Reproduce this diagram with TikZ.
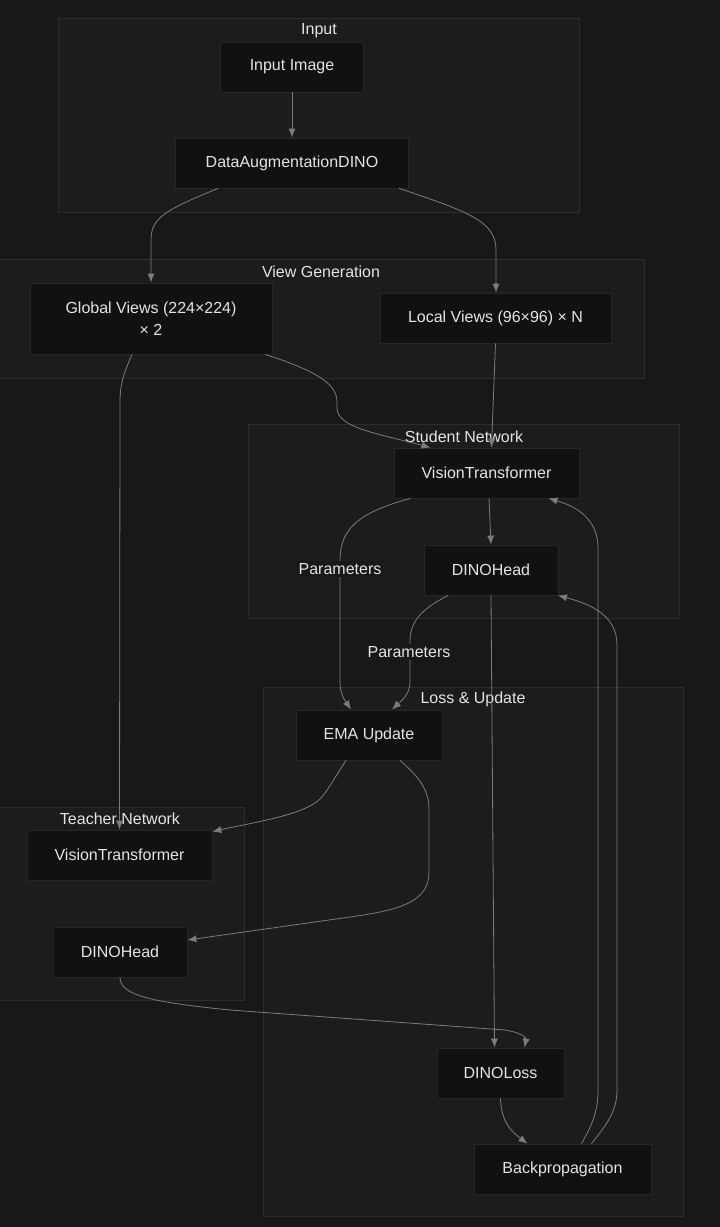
\documentclass[tikz,border=0pt]{standalone}
\usepackage{fontspec}
\setmainfont{Liberation Sans}
\usetikzlibrary{arrows.meta}
\definecolor{PageBg}{HTML}{181818}
\definecolor{GroupFill}{HTML}{1C1C1C}
\definecolor{GroupLine}{HTML}{2C2C2C}
\definecolor{BoxFill}{HTML}{111111}
\definecolor{BoxLine}{HTML}{262626}
\definecolor{EdgeGray}{HTML}{7C7C7C}
\definecolor{TextGray}{HTML}{E4E4E4}

\begin{document}
\begin{tikzpicture}[x=1pt,y=-1pt,>={Latex[length=9pt,width=7pt]}]
    \tikzset{
      group/.style={draw=GroupLine,fill=GroupFill,line width=0.8pt},
      grouptitle/.style={text=TextGray,font=\fontsize{16}{19}\selectfont,inner sep=0pt},
      block/.style={draw=BoxLine,fill=BoxFill,line width=0.8pt,text=TextGray,
        minimum height=50pt,align=center,font=\fontsize{16}{22}\selectfont},
      flow/.style={->,draw=EdgeGray,line width=0.8pt},
      tag/.style={fill=PageBg,text=TextGray,font=\fontsize{16}{19}\selectfont,inner sep=2pt}
    }
    \useasboundingbox (0,0) rectangle (720,1227);
    \fill[PageBg] (0,0) rectangle (720,1227);
    % clusters
    \draw[group] (58,18) rectangle (579,212);
    \node[grouptitle] (inputtitle) at (319,31) {Input};
    \draw[group] (-5,259) rectangle (644,378);
    \node[grouptitle] (viewtitle) at (321,272) {View Generation};
    \draw[group] (248,424) rectangle (679,618);
    \node[grouptitle] (studenttitle) at (464,437) {Student Network};
    \draw[group] (263,687) rectangle (683,1216);
    \node[grouptitle] (losstitle) at (473,699) {Loss \& Update};
    \draw[group] (-5,807) rectangle (244,1000);
    \node[grouptitle] (teachertitle) at (120,819) {Teacher Network};
    % nodes
    \node[block,minimum width=143pt] (image) at (292,67) {Input Image};
    \node[block,minimum width=233pt] (augment) at (292,163) {DataAugmentationDINO};
    \node[block,minimum width=242pt,minimum height=71pt] (globalv) at (151,318.5) {Global Views (224×224)\\× 2};
    \node[block,minimum width=231pt] (localv) at (495.5,318) {Local Views (96×96) × N};
    \node[block,minimum width=185pt] (studentvit) at (486.5,473) {VisionTransformer};
    \node[block,minimum width=134pt] (studenthead) at (491,570) {DINOHead};
    \node[block,minimum width=146pt] (ema) at (369,735) {EMA Update};
    \node[block,minimum width=185pt] (teachervit) at (119.5,855) {VisionTransformer};
    \node[block,minimum width=134pt] (teacherhead) at (120,952) {DINOHead};
    \node[block,minimum width=127pt] (dinoloss) at (500.5,1073) {DINOLoss};
    \node[block,minimum width=177pt] (backprop) at (562.5,1169) {Backpropagation};
    % connectors
    \draw[flow] (image) -- (augment);
    \draw[flow] ([xshift=-74]augment.south) .. controls (165,210) and (151,218) .. (151,240) -- (globalv.north);
    \draw[flow] ([xshift=107]augment.south) .. controls (470,212) and (496,222) .. (496,250) -- ([xshift=0.5]localv.north);
    \draw[flow] ([xshift=114]globalv.south) .. controls (320,372) and (337,385) .. (337,402) -- (337,408) .. controls (337,428) and (380,434) .. ([xshift=-56]studentvit.north);
    \draw[flow] (localv.south) -- ([xshift=5]studentvit.north);
    \draw[flow] ([xshift=-19]globalv.south) .. controls (123,375) and (120,385) .. (120,402) -- (teachervit.north);
    \draw[flow] ([xshift=2.5]studentvit.south) -- (studenthead.north);
    \draw[flow] ([xshift=-76]studentvit.south) .. controls (360,512) and (340,528) .. (340,560) -- (340,682) .. controls (340,695) and (346,702) .. ([xshift=-18]ema.north);
    \node[tag] (paramleft) at (340,569) {Parameters};
    \draw[flow] ([xshift=-43]studenthead.south) .. controls (420,610) and (410,622) .. (410,642) -- (410,682) .. controls (410,695) and (400,702) .. ([xshift=23]ema.north);
    \node[tag] (paramright) at (409,652) {Parameters};
    \draw[flow] (studenthead.south) -- ([xshift=-6]dinoloss.north);
    \draw[flow] ([xshift=-23]ema.south) .. controls (332,782) and (328,790) .. (321,798) .. controls (305,815) and (255,822) .. ([yshift=-2]teachervit.north east);
    \draw[flow] ([xshift=31]ema.south) .. controls (420,778) and (429,790) .. (429,810) -- (429,872) .. controls (429,902) and (400,910) .. (350,917) -- ([yshift=12]teacherhead.east);
    \draw[flow] (teacherhead.south) .. controls (120,995) and (150,1002) .. (230,1010) -- (505,1030) .. controls (528,1034) and (526,1040) .. ([xshift=24]dinoloss.north);
    \draw[flow] (dinoloss.south) .. controls (501,1122) and (512,1132) .. ([xshift=-35]backprop.north);
    \draw[flow] ([xshift=19]backprop.north) .. controls (592,1125) and (598,1112) .. (598,1090) -- (598,548) .. controls (598,518) and (575,506) .. ([xshift=62]studentvit.south);
    \draw[flow] ([xshift=29]backprop.north) .. controls (606,1125) and (617,1112) .. (617,1090) -- (617,645) .. controls (617,615) and (590,604) .. ([xshift=67]studenthead.south);
  \end{tikzpicture}
\end{document}
